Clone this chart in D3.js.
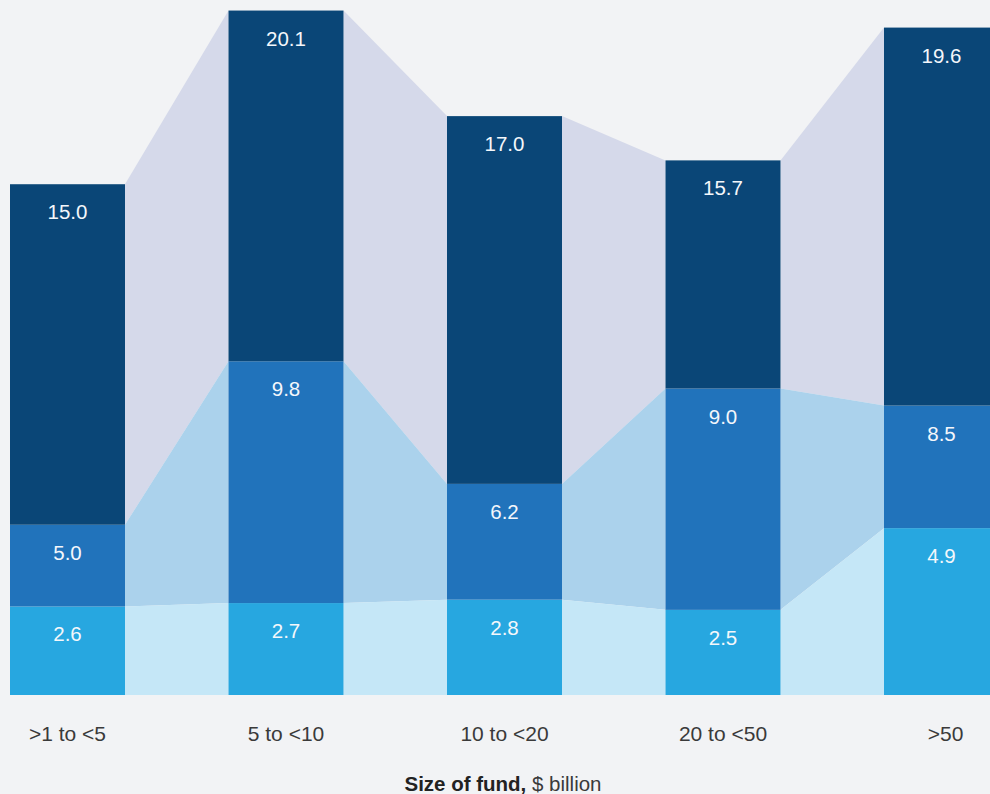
<!DOCTYPE html>
<html>
<head>
<meta charset="utf-8">
<script src="https://cdn.jsdelivr.net/npm/d3@7"></script>
<style>
  html, body { margin: 0; padding: 0; background: #f2f3f5; }
  svg { display: block; }
</style>
</head>
<body>
<svg id="chart" width="990" height="794"></svg>
<script>
// Categories (fund size, $ billion)
const categories = [">1 to <5", "5 to <10", "10 to <20", "20 to <50", ">50"];
// Cumulative levels shown as labels on each segment
const bottomLevel = [2.6, 2.7, 2.8, 2.5, 4.9];
const middleLevel = [5.0, 9.8, 6.2, 9.0, 8.5];
const topLevel    = [15.0, 20.1, 17.0, 15.7, 19.6];
const axisTitleBold = "Size of fund,";
const axisTitleRest = " $ billion";

const W = 990, H = 794;
const svg = d3.select("#chart");
svg.append("rect").attr("width", W).attr("height", H).attr("fill", "#f2f3f5");

const x = d3.scaleBand().domain(categories).range([10, 999]).paddingInner(0.4737).paddingOuter(0);
const y = d3.scaleLinear().domain([0, 20.41]).range([695, 0]);

const layers = [
  { lo: categories.map(() => 0), hi: bottomLevel, bar: "#27a7e0", band: "#c5e7f7" },
  { lo: bottomLevel, hi: middleLevel, bar: "#2173bb", band: "#abd2ec" },
  { lo: middleLevel, hi: topLevel, bar: "#0a4677", band: "#d5d9ea" }
];

// Connector bands between bars (draw top layer first, lower layers over it)
const gBands = svg.append("g");
[...layers].reverse().forEach(L => {
  for (let i = 0; i < categories.length - 1; i++) {
    const x0 = x(categories[i]) + x.bandwidth();
    const x1 = x(categories[i + 1]);
    const pts = [
      [x0, y(L.hi[i])], [x1, y(L.hi[i + 1])],
      [x1, y(L.lo[i + 1])], [x0, y(L.lo[i])]
    ];
    gBands.append("path")
      .attr("d", d3.line()(pts) + "Z")
      .attr("fill", L.band);
  }
});

// Bars
const gBars = svg.append("g");
layers.forEach(L => {
  gBars.selectAll(null).data(categories).enter().append("rect")
    .attr("x", d => x(d))
    .attr("width", x.bandwidth())
    .attr("y", (d, i) => y(L.hi[i]))
    .attr("height", (d, i) => y(L.lo[i]) - y(L.hi[i]))
    .attr("fill", L.bar);
});

// Value labels
const gLab = svg.append("g")
  .attr("font-family", "'Liberation Sans', Arial, Helvetica, sans-serif")
  .attr("font-size", 20.5).attr("fill", "#f4f7fb").attr("text-anchor", "middle");
layers.forEach(L => {
  gLab.selectAll(null).data(categories).enter().append("text")
    .attr("x", d => x(d) + x.bandwidth() / 2)
    .attr("y", (d, i) => y(L.hi[i]) + 35)
    .text((d, i) => L.hi[i].toFixed(1));
});

// Category axis
const axis = d3.axisBottom(x).tickSize(0).tickPadding(0);
const gAxis = svg.append("g").attr("transform", "translate(0,722)").call(axis);
gAxis.select(".domain").remove();
gAxis.selectAll("text")
  .attr("font-family", "'Liberation Sans', Arial, Helvetica, sans-serif")
  .attr("font-size", 21).attr("fill", "#3a3a3a").attr("dy", 0).attr("y", 19);
gAxis.selectAll(".tick").filter((d, i) => i === categories.length - 1)
  .select("text").attr("x", 4);

// Axis title
const t = svg.append("text")
  .attr("x", 503).attr("y", 791).attr("text-anchor", "middle")
  .attr("font-family", "'Liberation Sans', Arial, Helvetica, sans-serif")
  .attr("font-size", 20.5).attr("fill", "#222");
t.append("tspan").attr("font-weight", "bold").text(axisTitleBold);
t.append("tspan").attr("font-weight", "normal").attr("fill", "#3a3a3a").text(axisTitleRest);
</script>
</body>
</html>
